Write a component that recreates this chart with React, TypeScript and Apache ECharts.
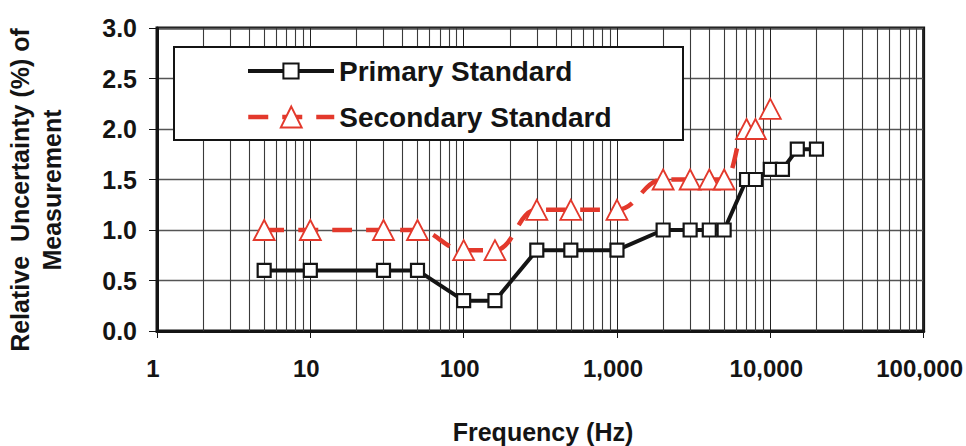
import React, { useEffect, useRef } from "react";
import * as echarts from "echarts";

const primaryFreq = [5, 10, 30, 50, 100, 160, 300, 500, 1000, 2000, 3000, 4000, 5000, 7000, 8000, 10000, 12000, 15000, 20000];
const primaryVal = [0.6, 0.6, 0.6, 0.6, 0.3, 0.3, 0.8, 0.8, 0.8, 1.0, 1.0, 1.0, 1.0, 1.5, 1.5, 1.6, 1.6, 1.8, 1.8];
const secondaryFreq = [5, 10, 30, 50, 100, 160, 300, 500, 1000, 2000, 3000, 4000, 5000, 7000, 8000, 10000];
const secondaryVal = [1.0, 1.0, 1.0, 1.0, 0.8, 0.8, 1.2, 1.2, 1.2, 1.5, 1.5, 1.5, 1.5, 2.0, 2.0, 2.2];
const minorGridFreq = [
  2, 3, 4, 5, 6, 7, 8, 9,
  20, 30, 40, 50, 60, 70, 80, 90,
  200, 300, 400, 500, 600, 700, 800, 900,
  2000, 3000, 4000, 5000, 6000, 7000, 8000, 9000,
  20000, 30000, 40000, 50000, 60000, 70000, 80000, 90000,
];
const seriesNames = ["Primary Standard", "Secondary Standard"];
const xTitle = "Frequency (Hz)";
const yTitle = "Relative  Uncertainty (%) of\nMeasurement";

const FONT = "'Liberation Sans', Arial, sans-serif";
const RED = "#e3392c";
const INK = "#141414";

export default function App() {
  const ref = useRef<HTMLDivElement>(null);
  useEffect(() => {
    document.body.style.margin = "0";
    const chart = echarts.init(ref.current!, null, { renderer: "svg" });
    const legendText = { fontSize: 28, fontWeight: "bold", fontFamily: FONT, color: INK, lineHeight: 32 };
    chart.setOption({
      animation: false,
      backgroundColor: "#fff",
      grid: {
        left: 157, right: 40, top: 28, bottom: 115,
        show: true, borderColor: INK, borderWidth: 3, backgroundColor: "transparent",
      },
      xAxis: {
        type: "log", logBase: 10, min: 1, max: 100000,
        axisLine: { show: true, lineStyle: { color: INK, width: 3 } },
        axisTick: { show: true, length: 7, lineStyle: { color: INK, width: 1 } },
        axisLabel: {
          fontSize: 24, fontWeight: "bold", fontFamily: FONT, color: INK, margin: 25,
          padding: [0, 8, 0, 0],
          formatter: (v: number) => Math.round(v).toLocaleString("en-US"),
        },
        splitLine: { show: true, lineStyle: { color: "#222", width: 1 } },
      },
      yAxis: {
        type: "value", min: 0, max: 3, interval: 0.5,
        axisLine: { show: true, lineStyle: { color: INK, width: 3 } },
        axisTick: { show: true, length: 8, lineStyle: { color: INK, width: 1 } },
        axisLabel: {
          fontSize: 25, fontWeight: "bold", fontFamily: FONT, color: INK, margin: 20,
          formatter: (v: number) => v.toFixed(1),
        },
        splitLine: { show: true, lineStyle: { color: "#555", width: 1.3 } },
      },
      legend: [
        {
          data: [seriesNames[0]], left: 246, top: 55, padding: 0, orient: "vertical",
          itemWidth: 86, itemHeight: 19, selectedMode: false, textStyle: legendText, z: 5,
          lineStyle: { width: 4 },
        },
        {
          data: [seriesNames[1]], left: 246, top: 101, padding: 0, orient: "vertical",
          itemWidth: 86, itemHeight: 26, selectedMode: false, textStyle: legendText, z: 5,
          lineStyle: { width: 4.5 },
        },
      ],
      graphic: [
        {
          type: "rect", z: 3, shape: { x: 174, y: 47, width: 509, height: 93 },
          style: { fill: "#fff", stroke: INK, lineWidth: 2 },
        },
        {
          type: "text", x: 543, y: 432, z: 3,
          style: {
            text: xTitle, fontSize: 25, fontWeight: "bold", fontFamily: FONT, fill: INK,
            align: "center", verticalAlign: "middle",
          },
        },
        {
          type: "text", x: 36, y: 190, rotation: Math.PI / 2, z: 3,
          style: {
            text: yTitle, fontSize: 25, fontWeight: "bold", fontFamily: FONT, fill: INK,
            align: "center", verticalAlign: "middle", lineHeight: 32,
          },
        },
      ],
      series: [
        {
          type: "line", data: [], silent: true, z: 1,
          markLine: {
            silent: true, symbol: "none", z: 1, animation: false,
            label: { show: false },
            lineStyle: { color: "#3a3a3a", width: 1.1, type: "solid" },
            emphasis: { disabled: true },
            data: minorGridFreq.map((v) => ({ xAxis: v })),
          },
        },
        {
          name: seriesNames[0], type: "line", z: 3,
          data: primaryFreq.map((f, i) => [f, primaryVal[i]]),
          symbol: "rect", symbolSize: 13,
          lineStyle: { color: INK, width: 4 },
          itemStyle: { color: "#fff", borderColor: INK, borderWidth: 2.2 },
        },
        {
          name: seriesNames[1], type: "line", z: 2, smooth: 0.4,
          data: secondaryFreq.map((f, i) => [f, secondaryVal[i]]),
          symbol: "triangle", symbolSize: [21, 20],
          lineStyle: { color: RED, width: 4.5, type: [20, 14] },
          itemStyle: { color: "#fff", borderColor: RED, borderWidth: 1.8 },
        },
      ],
    });
    return () => chart.dispose();
  }, []);
  return <div ref={ref} style={{ width: 966, height: 446 }} />;
}
